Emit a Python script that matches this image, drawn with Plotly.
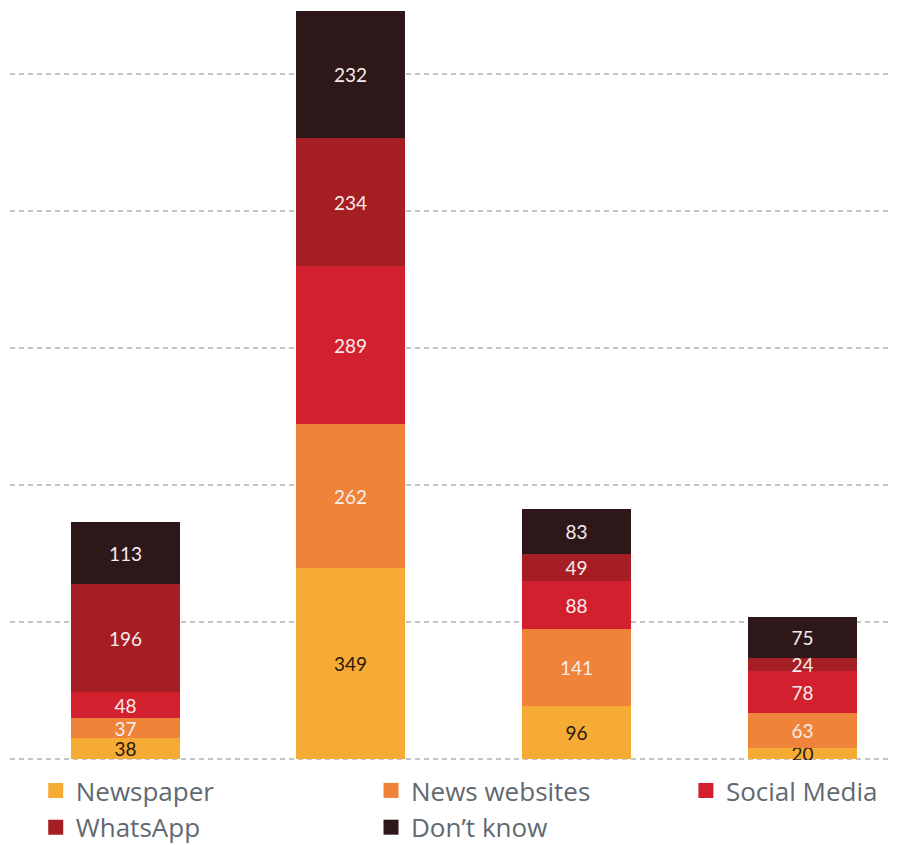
import plotly.graph_objects as go

# --- datos ---
grupos = ["A", "B", "C", "D"]
series = ["Newspaper", "News websites", "Social Media", "WhatsApp", "Don’t know"]
newspaper = [38, 349, 96, 20]
news_websites = [37, 262, 141, 63]
social_media = [48, 289, 88, 78]
whatsapp = [196, 234, 49, 24]
dont_know = [113, 232, 83, 75]

valores = [newspaper, news_websites, social_media, whatsapp, dont_know]
colores = ["#F6AB35", "#EF833A", "#D2202F", "#A41E23", "#2D1719"]
color_texto = ["#2A1A0E", "#F7ECEA", "#F7ECEA", "#F7ECEA", "#F7ECEA"]
leyendas = ["legend", "legend2", "legend3", "legend", "legend2"]

fig = go.Figure()

for nombre, vals, col, tcol, ley in zip(series, valores, colores, color_texto, leyendas):
    fig.add_trace(go.Bar(
        x=list(range(len(grupos))), y=vals, name=nombre,
        marker=dict(color=col, line=dict(width=0)),
        width=0.483,
        text=vals, textposition="inside", insidetextanchor="middle",
        constraintext="none", textangle=0,
        textfont=dict(family="Lato", size=19, color=tcol),
        showlegend=False, hoverinfo="skip",
    ))
    # marcador de leyenda
    fig.add_trace(go.Scatter(
        x=[None], y=[None], mode="markers", name=nombre, legend=ley,
        marker=dict(symbol="square", size=15, color=col),
    ))

estilo_leyenda = dict(
    orientation="v", yanchor="bottom", xanchor="left", traceorder="normal",
    font=dict(family="Open Sans", size=26, color="#616970"),
    bgcolor="rgba(0,0,0,0)", tracegroupgap=0, itemwidth=30,
)

# la página añade 8px de margen al cuerpo: se compensa con el tamaño
fig.update_layout(
    width=891, height=845,
    margin=dict(l=2, r=2, t=0, b=93),
    plot_bgcolor="white", paper_bgcolor="white",
    barmode="stack", bargap=0,
    xaxis=dict(range=[-0.51, 3.42], showticklabels=False, showgrid=False,
               zeroline=False, showline=False, ticks=""),
    yaxis=dict(range=[-2, 1371], tick0=0, dtick=250, showticklabels=False,
               showgrid=True, gridcolor="#C4C4C4", gridwidth=2,
               griddash="5px,4px", zeroline=False, showline=False, ticks=""),
    legend=dict(x=0.029, y=-0.121, **estilo_leyenda),
    legend2=dict(x=0.407, y=-0.121, **estilo_leyenda),
    legend3=dict(x=0.762, y=-0.072, **estilo_leyenda),
    showlegend=True,
)

fig.write_html("out.html")
